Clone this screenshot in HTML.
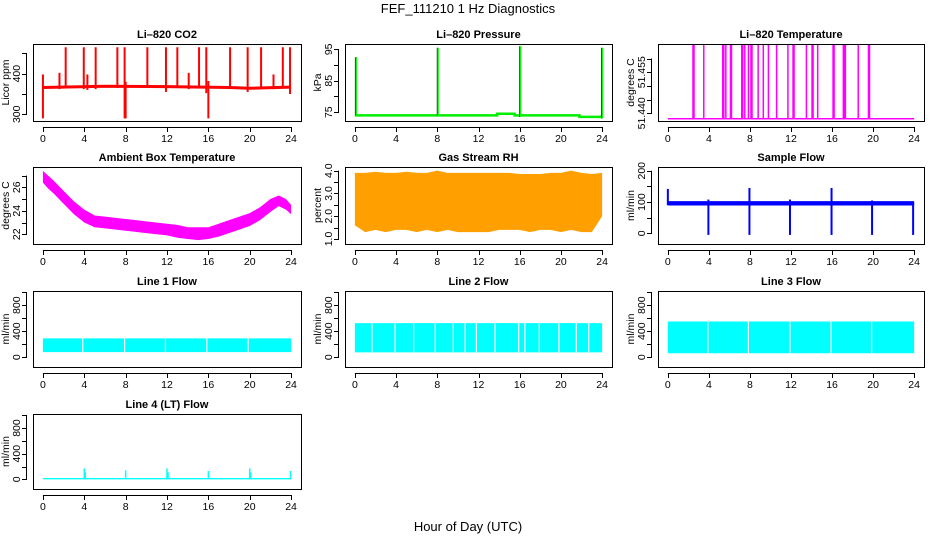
<!DOCTYPE html>
<html><head><meta charset="utf-8"><style>
html,body{margin:0;padding:0;background:#fff}
svg{display:block}
text{font-family:"Liberation Sans",sans-serif;fill:#000}
</style></head><body>
<svg id="c" width="936" height="540" viewBox="0 0 936 540">
<text x="468" y="13" font-size="13" text-anchor="middle">FEF_111210  1 Hz Diagnostics</text>
<text x="468" y="531" font-size="13" text-anchor="middle">Hour of Day (UTC)</text>
</svg>
<script>
// ---- data ----
const xTicks = [0,4,8,12,16,20,24];
// CO2
const co2Base = [[0,366],[6,369],[12,368],[18,366],[20,364],[24,367]];
const co2Spikes = [[0.0,290,398],[1.6,362,402],[2.2,365,465],[3.95,362,465],[4.3,360,398],[5.1,362,465],[7.2,365,465],[7.9,290,465],[8.0,290,380],[10.1,365,465],[11.9,355,465],[13.0,365,465],[14.1,362,402],[15.1,365,465],[15.8,352,465],[16.0,290,382],[18.1,365,465],[19.8,355,465],[21.1,365,465],[22.3,362,398],[23.2,365,465],[23.9,350,465]];
// Pressure
const presBase = [[0,74],[8,74],[13.8,74],[13.8,74.5],[15.5,74.5],[15.5,74],[21.8,74],[21.8,73.5],[23.9,73.5],[24,74]];
const presSpikes = [[0.05,74,92.5],[8.0,74,95.5],[16.0,73.5,96],[23.95,73,95.5]];
// Li-820 temperature
const tempBase = 51.438;
const tempSpikeHours = [2.45,2.55,3.5,5.35,5.45,5.65,6.1,6.2,7.2,7.3,7.5,7.85,8.1,8.2,8.8,9.3,9.8,10.6,11.7,12.2,12.3,13.5,14.05,14.15,14.6,16.1,16.2,17.1,17.2,17.3,18.55,19.55,19.65];
const tempSpikeTop = 51.465;
// Ambient box temperature
const ambHours = [0,0.5,1,2,3,4,5,6,8,10,12,13,14,15,16,17,18,19,20,21,22,22.8,23.5,24];
const ambLo = [26.4,25.9,25.5,24.6,23.7,23.0,22.6,22.5,22.3,22.1,21.9,21.7,21.6,21.5,21.6,21.8,22.1,22.4,22.7,23.2,23.9,24.4,24.1,23.7];
const ambHi = [27.4,27.0,26.6,25.7,24.8,24.1,23.6,23.5,23.3,23.1,22.9,22.8,22.6,22.6,22.6,22.9,23.2,23.5,23.8,24.3,25.0,25.3,25.0,24.5];
// Gas stream RH
const rhHours = [0,1,2,3,4,5,6,7,8,9,10,11,12,13,14,15,16,17,18,19,20,21,22,23,24];
const rhLo = [1.6,1.3,1.4,1.3,1.4,1.4,1.3,1.4,1.3,1.4,1.3,1.3,1.3,1.3,1.4,1.4,1.4,1.3,1.4,1.4,1.3,1.4,1.3,1.3,2.0];
const rhHi = [3.9,3.9,3.95,3.9,3.9,3.95,3.9,3.9,4.0,3.9,3.9,3.9,3.9,3.9,3.9,3.9,3.85,3.85,3.85,3.9,3.9,4.0,3.9,3.85,3.9];
// Sample flow
const sfLo = 89, sfHi = 103;
const sfSpikes = [[0.0,90,142],[3.95,-5,108],[7.95,-5,145],[11.9,-5,108],[15.95,-5,145],[19.9,-5,105],[23.9,-5,100]];
// Line flows
const l1Lo = 78, l1Hi = 290;
const l1Gaps = [3.85,7.9,11.85,15.85,19.85];
const l2Lo = 75, l2Hi = 525;
const l2Gaps = [1.66,3.9,5.7,7.8,9.55,10.7,11.8,13.6,15.9,16.5,17.9,19.8,21.5,22.7];
const l3Lo = 60, l3Hi = 550;
const l3Gaps = [3.9,7.85,11.9,15.9,19.85];
const l4Base = [0,20];
const l4Spikes = [[4.0,170],[4.1,110],[8.0,140],[12.0,170],[12.1,110],[16.0,130],[20.0,170],[20.1,110],[23.95,130]];

// ---- layout ----
const svg = document.getElementById('c');
const NS = 'http://www.w3.org/2000/svg';
const cols = [[33,301],[345,612],[658,924]];
const rows = [[44,121],[167,244],[291,367],[414,489]];
function el(tag, attrs, parent){
  const e = document.createElementNS(NS, tag);
  for (const k in attrs) e.setAttribute(k, attrs[k]);
  (parent||svg).appendChild(e);
  return e;
}
function makePanel(name, ci, ri, title, ylab, ymin, ymax, ticks, labels){
  const [x0,x1] = cols[ci], [y0,y1] = rows[ri];
  const g = el('g', {});
  
  
  const sx = h => x0 + (h + 0.96) / 25.92 * (x1 - x0);
  const sy = v => y1 - (v - ymin) / (ymax - ymin) * (y1 - y0);
  const clipId = 'clip-' + name;
  const cp = el('clipPath', {id: clipId}, g);
  el('rect', {x:x0, y:y0, width:x1-x0, height:y1-y0}, cp);
  const plot = el('g', {'clip-path':'url(#'+clipId+')'}, g);
  
  
  const box = el('rect', {x:x0+0.5, y:y0+0.5, width:x1-x0, height:y1-y0, fill:'none', stroke:'#000', 'stroke-width':1}, g);
  
  
  const t = el('text', {x:(x0+x1)/2, y:y0-6, 'font-size':11, 'font-weight':'bold', 'text-anchor':'middle'}, g);
  t.textContent = title;
  
  
  const xa = el('g', {}, g);
  
  
  el('line', {x1:sx(0), x2:sx(24), y1:y1+6.5, y2:y1+6.5, stroke:'#000'}, xa);
  xTicks.forEach(h => {
    el('line', {x1:Math.round(sx(h))+0.5, x2:Math.round(sx(h))+0.5, y1:y1+6, y2:y1+11, stroke:'#000'}, xa);
    const tl = el('text', {x:sx(h), y:y1+21, 'font-size':10.5, 'text-anchor':'middle'}, xa);
    tl.textContent = h;
    
    
  });
  const ya = el('g', {}, g);
  
  
  el('line', {x1:x0-6.5, x2:x0-6.5, y1:sy(ticks[0]), y2:sy(ticks[ticks.length-1]), stroke:'#000'}, ya);
  ticks.forEach(v => {
    el('line', {x1:x0-11, x2:x0-6, y1:Math.round(sy(v))+0.5, y2:Math.round(sy(v))+0.5, stroke:'#000'}, ya);
  });
  labels.forEach(v => {
    const lx = x0 - 13, ly = sy(v);
    const tl = el('text', {x:lx, y:ly, 'font-size':10.5, 'text-anchor':'middle', transform:'rotate(-90 '+lx+' '+ly+')'}, ya);
    tl.textContent = name==='rh' ? v.toFixed(1) : (name==='li820-temp' ? v.toFixed(3) : v);
    
    
  });
  const yl = el('text', {x:x0-24, y:(y0+y1)/2, 'font-size':10.5, 'text-anchor':'middle', transform:'rotate(-90 '+(x0-24)+' '+((y0+y1)/2)+')'}, g);
  yl.textContent = ylab;
  
  
  return {sx, sy, plot};
}
function band(p, hours, lo, hi, fill){
  let d = 'M';
  hours.forEach((h,i) => d += p.sx(h) + ',' + p.sy(hi[i]) + ' L');
  for (let i = hours.length-1; i >= 0; i--) d += p.sx(hours[i]) + ',' + p.sy(lo[i]) + (i ? ' L' : ' Z');
  const b = el('path', {d, fill, stroke:'none'}, p.plot);
  
  
}
function vline(p, h, a, b, color, w){
  const l = el('line', {x1:p.sx(h), x2:p.sx(h), y1:p.sy(a), y2:p.sy(b), stroke:color, 'stroke-width':w||1.5}, p.plot);
  
  
}
function polyline(p, pts, color, w){
  const l = el('polyline', {points: pts.map(q => p.sx(q[0]) + ',' + p.sy(q[1])).join(' '), fill:'none', stroke:color, 'stroke-width':w}, p.plot);
  
  
}

let p = makePanel('co2', 0, 0, 'Li\u2013820 CO2', 'Licor ppm', 283.5, 473, [300,350,400,450], [300,400]);
polyline(p, co2Base, '#ff0000', 3);
co2Spikes.forEach(s => vline(p, s[0], s[1], s[2], '#ff0000', 2));
p = makePanel('pressure', 1, 0, 'Li\u2013820 Pressure', 'kPa', 72.2, 96.7, [75,80,85,90,95], [75,85,95]);
polyline(p, presBase, '#00ee00', 2.5);
presSpikes.forEach(s => { vline(p, s[0], s[1], s[2], '#000', 1); vline(p, s[0]+0.08, s[1], s[2], '#00ff00', 1.5); });
p = makePanel('li820-temp', 2, 0, 'Li\u2013820 Temperature', 'degrees C', 51.4372, 51.4653, [51.440,51.445,51.450,51.455,51.460], [51.440,51.455]);
polyline(p, [[0,tempBase],[24,tempBase]], '#ff00ff', 1.5);
tempSpikeHours.forEach(h => vline(p, h, tempBase, tempSpikeTop, '#ff00ff', 1.5));
p = makePanel('ambient-temp', 0, 1, 'Ambient Box Temperature', 'degrees C', 21.17, 27.73, [22,23,24,25,26,27], [22,24,26]);
band(p, ambHours, ambLo, ambHi, '#ff00ff');
p = makePanel('rh', 1, 1, 'Gas Stream RH', 'percent', 0.78, 4.16, [1.0,1.5,2.0,2.5,3.0,3.5,4.0], [1.0,2.0,3.0,4.0]);
band(p, rhHours, rhLo, rhHi, '#ffa000');
p = makePanel('sample-flow', 2, 1, 'Sample Flow', 'ml/min', -34, 212, [0,50,100,150,200], [0,100,200]);
band(p, [0,24], [sfLo,sfLo], [sfHi,sfHi], '#0000ff');
sfSpikes.forEach(s => vline(p, s[0], s[1], s[2], '#0000ff', 2));
const flowTicks = [0,200,400,600,800,1000], flowLabels = [0,400,800];
function flowPanel(name, ci, ri, title, lo, hi, gaps){
  const q = makePanel(name, ci, ri, title, 'ml/min', -151, 1019, flowTicks, flowLabels);
  band(q, [0,24], [lo,lo], [hi,hi], '#00ffff');
  gaps.forEach(h => vline(q, h, lo, hi, '#ffffff', 1.2));
  return q;
}
flowPanel('line1-flow', 0, 2, 'Line 1 Flow', l1Lo, l1Hi, l1Gaps);
flowPanel('line2-flow', 1, 2, 'Line 2 Flow', l2Lo, l2Hi, l2Gaps);
flowPanel('line3-flow', 2, 2, 'Line 3 Flow', l3Lo, l3Hi, l3Gaps);
p = makePanel('line4-flow', 0, 3, 'Line 4 (LT) Flow', 'ml/min', -151, 1019, flowTicks, flowLabels);
band(p, [0,24], [l4Base[0],l4Base[0]], [l4Base[1],l4Base[1]], '#00ffff');
l4Spikes.forEach(s => vline(p, s[0], 0, s[1], '#00ffff', 1.5));
</script>
</body></html>
